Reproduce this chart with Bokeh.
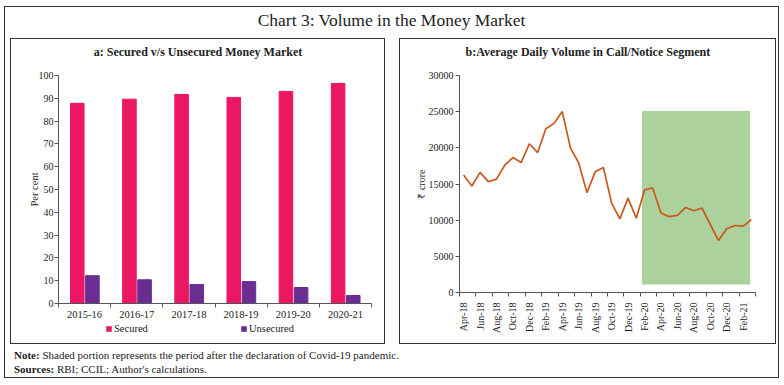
from bokeh.plotting import figure
from bokeh.models import FixedTicker, Legend, LegendItem, Div, ColumnDataSource, Range1d, Spacer
from bokeh.layouts import column, row
from bokeh.transform import dodge
from bokeh.core.properties import value
from bokeh.embed import file_html
from bokeh.resources import INLINE
import math

# ---------------- data ----------------
years = ["2015-16", "2016-17", "2017-18", "2018-19", "2019-20", "2020-21"]
secured = [87.8, 89.6, 91.7, 90.4, 93.0, 96.5]
unsecured = [12.2, 10.4, 8.3, 9.6, 7.0, 3.5]

months = ["Apr-18", "May-18", "Jun-18", "Jul-18", "Aug-18", "Sep-18", "Oct-18", "Nov-18",
          "Dec-18", "Jan-19", "Feb-19", "Mar-19", "Apr-19", "May-19", "Jun-19", "Jul-19",
          "Aug-19", "Sep-19", "Oct-19", "Nov-19", "Dec-19", "Jan-20", "Feb-20", "Mar-20",
          "Apr-20", "May-20", "Jun-20", "Jul-20", "Aug-20", "Sep-20", "Oct-20", "Nov-20",
          "Dec-20", "Jan-21", "Feb-21", "Mar-21"]
volume = [16230, 14730, 16600, 15320, 15680, 17600, 18650, 17960,
          20560, 19330, 22650, 23380, 25010, 19960, 17910, 13810,
          16680, 17280, 12360, 10170, 13040, 10260, 14180, 14450,
          11000, 10490, 10670, 11760, 11310, 11680, 9400, 7200,
          8810, 9260, 9170, 10080]
shade_from = "Feb-20"
shade_to = "Mar-21"
shade_top = 25100
shade_bottom = 1100

title_main = "Chart 3: Volume in the Money Market"
title_a = "a: Secured v/s Unsecured Money Market"
title_b = "b:Average Daily Volume in Call/Notice Segment"

FONT = "Liberation Serif"
PINK = "#ec1763"
PURPLE = "#6a2d91"
GREEN = "#acd19c"
ORANGE = "#c8581b"
AXIS = "#555555"
RING = {"box-shadow": "inset 0 0 0 1px #333333"}

# panel geometry (px)
WA, WB = 375, 377
LA, RA = 48, 14
LB, RB = 60, 21
STRIP = 27


def bare(p):
    p.xgrid.visible = False
    p.ygrid.visible = False
    p.outline_line_color = None
    p.border_fill_alpha = 0


def style_axes(p):
    bare(p)
    for ax in (p.xaxis[0], p.yaxis[0]):
        ax.axis_line_color = AXIS
        ax.major_label_text_font = FONT
        ax.major_label_text_color = "#222222"
        ax.axis_label_text_font = FONT
        ax.axis_label_text_font_style = "normal"
        ax.axis_label_text_color = "#222222"


def title_strip(text, width, left, right):
    s = figure(width=width, height=STRIP, x_range=Range1d(0, 1), y_range=Range1d(0, 1),
               x_axis_type=None, y_axis_type=None, output_backend="svg", toolbar_location=None,
               min_border_left=left, min_border_right=right, min_border_top=0, min_border_bottom=0)
    bare(s)
    s.background_fill_alpha = 0
    xc = (width / 2 - left) / (width - left - right)
    s.text(x=[xc], y=[0.5], text=[text], text_align="center", text_baseline="middle",
           text_font=value(FONT), text_font_style="bold", text_font_size="12px", text_color="#222222")
    return s


# ---------------- panel a ----------------
xi = list(range(len(years)))
src = ColumnDataSource(dict(x=xi, s=secured, u=unsecured))

fa = figure(width=WA, height=257, x_range=Range1d(-0.5, len(years) - 0.5), y_range=Range1d(0, 100),
            output_backend="svg", toolbar_location=None,
            min_border_left=LA, min_border_right=RA, min_border_top=10, min_border_bottom=19)
fa.vbar(x=dodge("x", -0.14), top="s", width=0.26, source=src, color=PINK)
fa.vbar(x=dodge("x", 0.15), top="u", width=0.26, source=src, color=PURPLE)
style_axes(fa)
fa.xaxis.ticker = FixedTicker(ticks=xi, minor_ticks=[i - 0.5 for i in range(len(years) + 1)])
fa.xaxis.major_label_overrides = {i: y for i, y in zip(xi, years)}
fa.xaxis.major_tick_line_color = None
fa.xaxis.minor_tick_in = 0
fa.xaxis.minor_tick_out = 4
fa.xaxis.minor_tick_line_color = AXIS
fa.xaxis.major_label_text_font_size = "10.5px"
fa.xaxis.major_label_standoff = 1
fa.yaxis.ticker = FixedTicker(ticks=list(range(0, 101, 10)))
fa.yaxis.major_tick_in = 0
fa.yaxis.major_tick_out = 4
fa.yaxis.major_tick_line_color = AXIS
fa.yaxis.major_label_text_font_size = "10px"
fa.yaxis.major_label_standoff = 1
fa.yaxis.axis_label = "Per cent"
fa.yaxis.axis_label_text_font_size = "10.5px"
fa.yaxis.axis_label_standoff = -4

# legend strip of panel a (keys carried by hidden zero-height bars)
fleg = figure(width=WA, height=22, x_range=Range1d(0, 1), y_range=Range1d(0, 1),
              x_axis_type=None, y_axis_type=None, output_backend="svg", toolbar_location=None,
              min_border_left=LA, min_border_right=RA, min_border_top=0, min_border_bottom=0)
bare(fleg)
fleg.background_fill_alpha = 0
ks = fleg.vbar(x="x", bottom="s", top="s", width=0.26, source=src, fill_color=PINK, line_color=None)
ku = fleg.vbar(x="x", bottom="u", top="u", width=0.26, source=src, fill_color=PURPLE, line_color=None)
ks.visible = False
ku.visible = False
leg = Legend(items=[LegendItem(label="Secured", renderers=[ks]),
                    LegendItem(label="Unsecured", renderers=[ku])],
             orientation="horizontal", location=(47, 10), spacing=64, label_width=62,
             glyph_width=7, glyph_height=7, label_standoff=2, label_height=12, padding=0, margin=0,
             border_line_color=None, background_fill_alpha=0, inactive_fill_alpha=0,
             label_text_font=FONT, label_text_font_size="10.5px", label_text_color="#222222")
fleg.add_layout(leg)

# ---------------- panel b ----------------
mi = list(range(len(months)))
fb = figure(width=WB, height=279, x_range=Range1d(-0.5, len(months) - 0.5), y_range=Range1d(0, 30000),
            output_backend="svg", toolbar_location=None,
            min_border_left=LB, min_border_right=RB, min_border_top=10, min_border_bottom=52)
i0 = months.index(shade_from)
i1 = months.index(shade_to)
fb.quad(left=[i0 - 0.3], right=[i1 - 0.15], bottom=[shade_bottom], top=[shade_top],
        fill_color=GREEN, line_color=None)
fb.line(mi, volume, line_color=ORANGE, line_width=1.7)
style_axes(fb)
fb.xaxis.ticker = FixedTicker(ticks=mi[::2], minor_ticks=[i - 0.5 for i in range(0, len(months) + 1, 2)])
fb.xaxis.major_label_overrides = {i: months[i] for i in mi[::2]}
fb.xaxis.major_label_orientation = math.pi / 2
fb.xaxis.major_tick_line_color = None
fb.xaxis.minor_tick_in = 0
fb.xaxis.minor_tick_out = 4
fb.xaxis.minor_tick_line_color = AXIS
fb.xaxis.major_label_text_font_size = "10px"
fb.xaxis.major_label_standoff = 4
fb.yaxis.ticker = FixedTicker(ticks=list(range(0, 30001, 5000)))
fb.yaxis.major_tick_in = 0
fb.yaxis.major_tick_out = 4
fb.yaxis.major_tick_line_color = AXIS
fb.yaxis.major_label_text_font_size = "10px"
fb.yaxis.major_label_standoff = 2
fb.yaxis.axis_label = "₹ crore"
fb.yaxis.axis_label_text_font_size = "10px"
fb.yaxis.axis_label_standoff = -1

# ---------------- page ----------------
title_div = Div(text=title_main, width=765, height=22,
                styles={"font-family": FONT, "font-size": "17.5px", "line-height": "18px",
                        "text-align": "center", "color": "#222"})
notes = Div(text="<div style='padding-left:5px;margin-top:-1px'><b>Note:</b> Shaded portion represents the period "
                 "after the declaration of Covid-19 pandemic.<br><b>Sources:</b> RBI; CCIL; Author's calculations.</div>",
            width=765, height=24,
            styles={"font-family": FONT, "font-size": "11px", "line-height": "14px", "color": "#222"})

col_a = column(title_strip(title_a, WA, LA, RA), fa, fleg, spacing=0, styles=RING)
col_b = column(title_strip(title_b, WB, LB, RB), fb, spacing=0, styles=RING)
panels = row(Spacer(width=6, height=306), col_a, Spacer(width=14, height=306), col_b,
             Spacer(width=3, height=306), spacing=0)
inner = column(title_div, panels, notes, spacing=0, styles=RING)
page = column(Spacer(width=779, height=6), row(Spacer(width=4, height=372), inner, spacing=0), spacing=0)

open("out.html", "w").write(file_html(page, INLINE))
